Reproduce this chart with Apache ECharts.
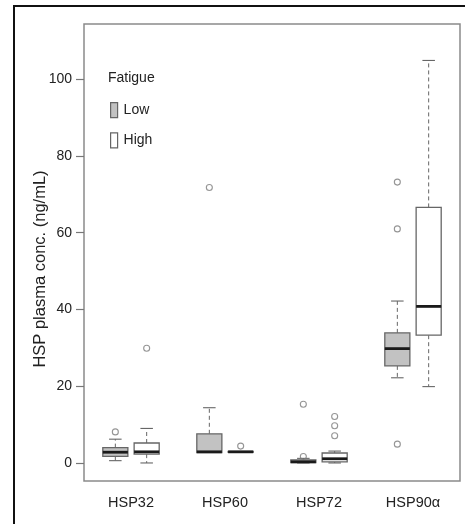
<!DOCTYPE html>
<html>
<head>
<meta charset="utf-8">
<script src="https://cdn.jsdelivr.net/npm/echarts@6/dist/echarts.min.js"></script>
<style>
html, body { margin: 0; padding: 0; background: #fff; }
#chart { width: 465px; height: 524px; }
</style>
</head>
<body>
<div id="chart"></div>
<script>
var categories = ['HSP32', 'HSP60', 'HSP72', 'HSP90α'];
// [min, Q1, median, Q3, max]
var lowBoxes = [
	[0.6, 1.7, 2.8, 4.0, 6.2],
	[2.7, 2.7, 2.9, 7.6, 14.4],
	[0, 0.1, 0.3, 0.8, 1.2],
	[22.2, 25.3, 29.8, 33.9, 42.2]
];
var highBoxes = [
	[0, 2.3, 2.9, 5.2, 9.0],
	[2.8, 2.8, 2.9, 3.0, 3.0],
	[0, 0.3, 1.1, 2.6, 3.1],
	[19.9, 33.3, 40.8, 66.6, 104.9]
];
// [category index, value]
var lowOutliers = [[0, 8.1], [1, 71.8], [2, 1.7], [2, 15.3], [3, 4.9], [3, 61.0], [3, 73.2]];
var highOutliers = [[0, 29.9], [1, 4.4], [2, 7.1], [2, 9.7], [2, 12.1]];
var yTicks = [0, 20, 40, 60, 80, 100];

var FONT = '"Liberation Sans", Arial, sans-serif';
var LINE = '#666';

// each group takes 3 slots: low at 1, high at 2, gap
function slot(i, k) { return 3 * i + 1 + k; }

function boxData(list, k) {
	return list.map(function (b, i) { return [slot(i, k)].concat(b); });
}
function outData(list, k) {
	return list.map(function (o) { return [slot(o[0], k), o[1]]; });
}

function makeRender(fill) {
	return function (params, api) {
		var x = api.value(0);
		var mn = api.value(1), q1 = api.value(2), md = api.value(3), q3 = api.value(4), mx = api.value(5);
		var w = api.size([0.8, 0])[0];
		var c = function (v) { return api.coord([x, v]); };
		var pMin = c(mn), pQ1 = c(q1), pMd = c(md), pQ3 = c(q3), pMx = c(mx);
		var cx = pMd[0];
		var children = [];
		var dash = { stroke: LINE, lineWidth: 1, lineDash: [4, 3] };
		var solid = { stroke: LINE, lineWidth: 1.1 };
		if (mn < q1) {
			children.push({ type: 'line', shape: { x1: cx, y1: pQ1[1], x2: cx, y2: pMin[1] }, style: dash });
			children.push({ type: 'line', shape: { x1: cx - w / 4, y1: pMin[1], x2: cx + w / 4, y2: pMin[1] }, style: solid });
		}
		if (mx > q3) {
			children.push({ type: 'line', shape: { x1: cx, y1: pQ3[1], x2: cx, y2: pMx[1] }, style: dash });
			children.push({ type: 'line', shape: { x1: cx - w / 4, y1: pMx[1], x2: cx + w / 4, y2: pMx[1] }, style: solid });
		}
		children.push({
			type: 'rect',
			shape: { x: cx - w / 2, y: pQ3[1], width: w, height: Math.max(pQ1[1] - pQ3[1], 0.5) },
			style: { fill: fill, stroke: LINE, lineWidth: 1.3 }
		});
		children.push({ type: 'line', shape: { x1: cx - w / 2, y1: pMd[1], x2: cx + w / 2, y2: pMd[1] }, style: { stroke: '#1a1a1a', lineWidth: 2.8 } });
		return { type: 'group', children: children };
	};
}

var myChart = echarts.init(document.getElementById('chart'));
var option = {
	animation: false,
	backgroundColor: '#fff',
	textStyle: { fontFamily: FONT },
	grid: {
		left: 84, top: 24, width: 376, height: 457,
		show: true, borderColor: '#8a8a8a', borderWidth: 1.5, backgroundColor: 'transparent'
	},
	legend: {
		orient: 'vertical',
		left: 110, top: 102,
		padding: 0,
		itemWidth: 7, itemHeight: 15, itemGap: 14,
		selectedMode: false,
		textStyle: { fontFamily: FONT, fontSize: 14, color: '#222', padding: [0, 0, 0, 1] },
		data: [
			{ name: 'Low', icon: 'rect', itemStyle: { color: '#c2c2c2', borderColor: '#666', borderWidth: 1.2 } },
			{ name: 'High', icon: 'rect', itemStyle: { color: '#fff', borderColor: '#666', borderWidth: 1.2 } }
		]
	},
	xAxis: [{
		type: 'value', min: 0, max: 12, show: false
	}, {
		type: 'category',
		data: categories,
		position: 'bottom',
		boundaryGap: true,
		axisLine: { show: false },
		axisTick: { alignWithLabel: true, length: 7, lineStyle: { color: '#777', width: 1.2 } },
		axisLabel: { margin: 14, fontFamily: FONT, fontSize: 14.5, color: '#222' },
		splitLine: { show: false }
	}],
	yAxis: {
		type: 'value',
		min: -4.7, max: 114.4,
		axisLine: { show: false },
		axisTick: { show: true, length: 8, customValues: yTicks, lineStyle: { color: '#777', width: 1.2 } },
		axisLabel: { margin: 12, customValues: yTicks, fontFamily: FONT, fontSize: 14, color: '#222' },
		splitLine: { show: false }
	},
	graphic: [
		{ type: 'rect', silent: true, shape: { x: 14, y: 6, width: 480, height: 560 }, style: { fill: 'none', stroke: '#111', lineWidth: 2 } },
		{ type: 'text', x: 108, y: 78, style: { text: 'Fatigue', font: '14px ' + FONT, fill: '#222', verticalAlign: 'middle' } },
		{ type: 'text', x: 40.5, y: 269, rotation: Math.PI / 2, style: { text: 'HSP plasma conc. (ng/mL)', font: '16.5px ' + FONT, fill: '#222', align: 'center', verticalAlign: 'middle' } }
	],
	series: [{
		name: 'Low', type: 'custom', xAxisIndex: 0, yAxisIndex: 0,
		renderItem: makeRender('#c2c2c2'),
		encode: { x: 0, y: [1, 2, 3, 4, 5] },
		data: boxData(lowBoxes, 0)
	}, {
		name: 'High', type: 'custom', xAxisIndex: 0, yAxisIndex: 0,
		renderItem: makeRender('#ffffff'),
		encode: { x: 0, y: [1, 2, 3, 4, 5] },
		data: boxData(highBoxes, 1)
	}, {
		name: 'Low', type: 'scatter', xAxisIndex: 0, yAxisIndex: 0,
		symbol: 'circle', symbolSize: 6,
		itemStyle: { color: 'rgba(0,0,0,0)', borderColor: '#7a7a7a', borderWidth: 1.1 },
		data: outData(lowOutliers, 0)
	}, {
		name: 'High', type: 'scatter', xAxisIndex: 0, yAxisIndex: 0,
		symbol: 'circle', symbolSize: 6,
		itemStyle: { color: 'rgba(0,0,0,0)', borderColor: '#7a7a7a', borderWidth: 1.1 },
		data: outData(highOutliers, 1)
	}]
};
myChart.setOption(option);
</script>
</body>
</html>
